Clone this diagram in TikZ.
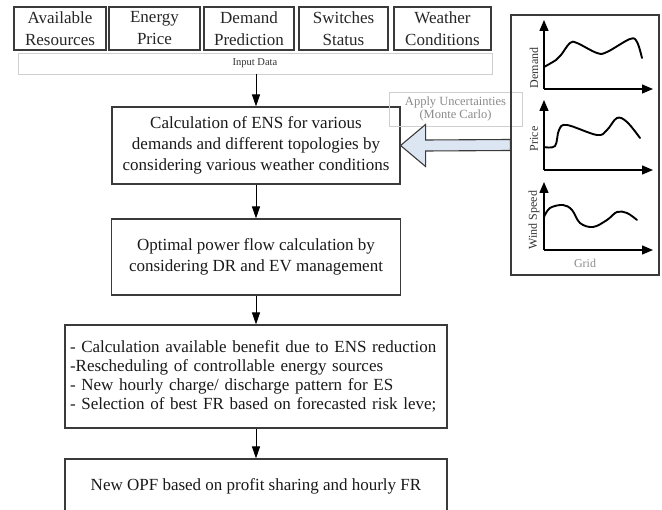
\documentclass[tikz,border=0pt]{standalone}
\usepackage{fontspec}
\setmainfont{Liberation Serif}
\usetikzlibrary{calc,arrows.meta,positioning}
\definecolor{boxline}{HTML}{3A3A3A}
\definecolor{lightline}{HTML}{CFCFCF}
\definecolor{softtext}{HTML}{8A8A8A}
\definecolor{arrowfill}{HTML}{DCE6F2}
\def\drawflow{\draw[-{Triangle[length=12pt,width=8pt]}, line width=0.9pt, color=black]}
\def\drawaxis{\draw[-{Triangle[length=11pt,width=9pt]}, line width=1.4pt]}
\def\drawcurve{\draw[line width=1.9pt, line cap=round, line join=round]}
\def\stepnode{\node[draw=boxline, line width=1.1pt, align=center, inner sep=0pt, text=black!90, font=\fontsize{17}{21}\selectfont]}
\def\datanode{\node[draw=boxline, line width=1.1pt, align=center, inner sep=0pt, minimum height=43pt, text=black!85, font=\fontsize{17}{22}\selectfont]}
\def\labnode{\node[inner sep=0pt, text=black!80, font=\fontsize{12}{13}\selectfont]}

\begin{document}
\begin{tikzpicture}[x=1pt,y=-1pt]
\useasboundingbox (0,0) rectangle (662,510);
\clip (0,0) rectangle (662,510);

% ---------- input data along the top
\datanode[minimum width=92pt] (res) at (60,28.5) {Available\\Resources};
\datanode[minimum width=91pt] (price) at (154.5,28.5) {Energy\\Price};
\datanode[minimum width=90pt] (dem) at (249,28.5) {Demand\\Prediction};
\datanode[minimum width=89pt] (sw) at (343.5,28.5) {Switches\\Status};
\datanode[minimum width=97pt] (wea) at (442.5,28.5) {Weather\\Conditions};
\node[draw=lightline, line width=0.8pt, minimum width=474pt, minimum height=21pt, inner sep=0pt,
  font=\fontsize{10.5}{12}\selectfont, text=black!80] (input) at (255,63.5) {Input Data};

% ---------- the main chain of steps
\stepnode[minimum width=288pt, minimum height=77pt] (ens) at (256,145.5)
  {Calculation of ENS for various\\demands and different topologies by\\considering various weather conditions};
\stepnode[minimum width=289pt, minimum height=76pt] (opf) at (256,257)
  {Optimal power flow calculation by\\considering DR and EV management};
\stepnode[text width=372pt, inner xsep=5pt, minimum height=103pt, align=left,
  font=\fontsize{17}{19}\selectfont] (benefit) at (256,376.5)
  {- Calculation available benefit due to ENS reduction\\
   -Rescheduling of controllable energy sources\\
   - New hourly charge/ discharge pattern for ES\\
   - Selection of best FR based on forecasted risk leve;};
\stepnode[minimum width=382pt, minimum height=54pt] (newopf) at (256,486)
  {New OPF based on profit sharing and hourly FR};

\drawflow (ens.north |- input.south) -- (ens.north);
\drawflow (ens) -- (opf);
\drawflow (opf) -- (benefit);
\drawflow (benefit) -- (newopf);

% ---------- uncertainties panel on the right
\node[draw=lightline, line width=0.8pt, minimum width=133pt, minimum height=34pt, inner sep=0pt,
  align=center, font=\fontsize{12.5}{13.5}\selectfont, text=softtext] (unc) at (455.5,109)
  {Apply Uncertainties\\(Monte Carlo)};
\node[draw=boxline, line width=1.1pt, minimum width=148pt, minimum height=260pt, inner sep=0pt] (panel) at (585,145) {};

% the hollow arrow from the panel into the ENS step
\coordinate (tip) at (ens.east);
\draw[draw=boxline, fill=arrowfill, line width=1.1pt, line join=miter]
  (tip) -- ++(25,-21) -- ++(0,15.5) -- ($ (panel.west) + (0,-5.5) $)
  -- ($ (panel.west) + (0,5.5) $) -- ($ (tip) + (25,5.5) $) -- ++(0,15.5) -- cycle;

% axes of the three small plots
\foreach \oy/\ty in {89/20, 170/100, 250/182} {
  \drawaxis (544,\oy) -- (544,\ty);
  \drawaxis (544,\oy) -- (653,\oy);
}
\labnode[rotate=90] (dlab) at (534,68) {Demand};
\labnode[rotate=90] (plab) at (534,139) {Price};
\labnode[rotate=90] (wlab) at (534,220) {Wind Speed};
\labnode[text=softtext] (glab) at (585,263) {Grid};

\drawcurve plot[smooth, tension=0.6] coordinates {(544,67) (556,60) (561,55) (570,43) (577,43) (597,53) (607,52) (630,39) (637,42) (642,58)};
\drawcurve plot[smooth, tension=0.6] coordinates {(544,147) (555,146) (559,130) (567,125) (597,135) (607,130) (617,118) (627,122) (640,138)};
\drawcurve plot[smooth, tension=0.6] coordinates {(544,217) (550,208) (563,205) (572,210) (580,223) (593,227) (607,220) (617,212) (627,213) (637,220)};
\end{tikzpicture}
\end{document}
